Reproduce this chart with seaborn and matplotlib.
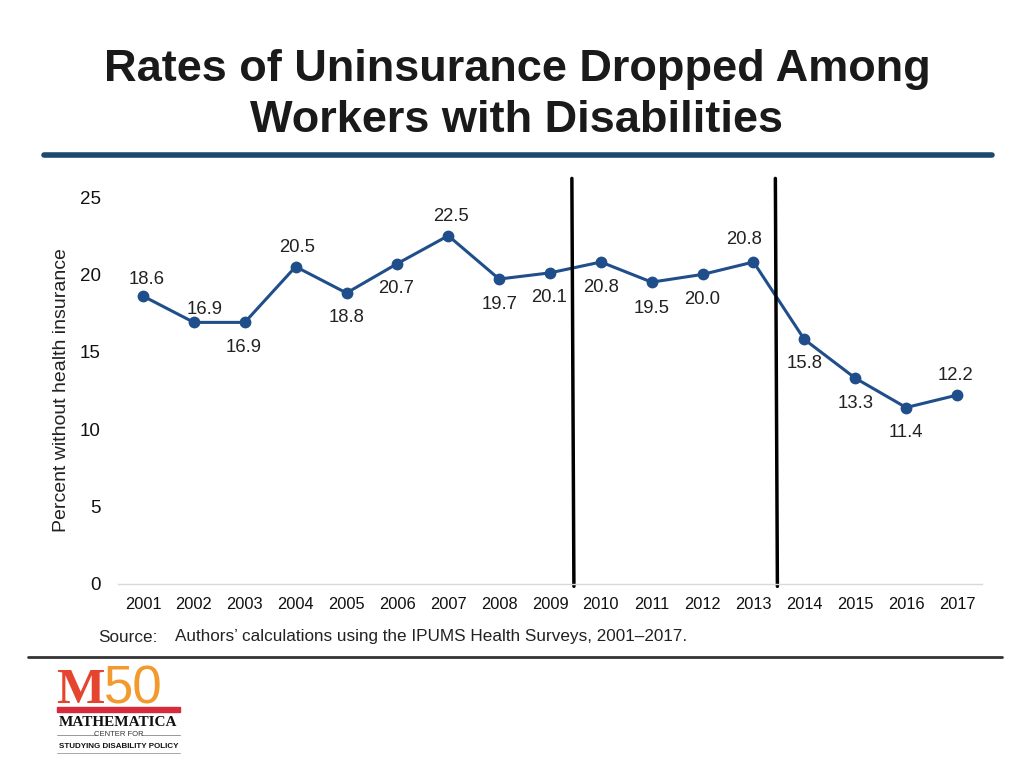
import matplotlib
matplotlib.use('Agg')
import matplotlib.pyplot as plt
import seaborn as sns
import pandas as pd
import numpy as np
from matplotlib.patches import Rectangle
from matplotlib.lines import Line2D

# data
years = [str(y) for y in range(2001, 2018)]
rates = [18.6, 16.9, 16.9, 20.5, 18.8, 20.7, 22.5, 19.7, 20.1,
         20.8, 19.5, 20.0, 20.8, 15.8, 13.3, 11.4, 12.2]
rate_labels = ['18.6', '16.9', '16.9', '20.5', '18.8', '20.7', '22.5', '19.7', '20.1',
               '20.8', '19.5', '20.0', '20.8', '15.8', '13.3', '11.4', '12.2']
y_ticks = [0, 5, 10, 15, 20, 25]
# policy break markers, between 2009/2010 and 2013/2014
breaks = [8.45, 12.45]

# label offsets in pixels (dx, dy)
label_offsets = [(4, 17), (11, 13), (-1, -25), (1, 19), (0, -25), (-1, -25), (3, 19),
                 (0, -25), (-1, -25), (0, -25), (0, -26), (0, -25), (-9, 23),
                 (0, -24), (0, -25), (0, -25), (-2, 20)]

sns.set_theme(style='white')
plt.rcParams['font.family'] = ['Liberation Sans', 'DejaVu Sans']

line_color = '#1f4e8a'

df = pd.DataFrame({'pos': np.arange(len(years)), 'year': years, 'rate': rates})

fig = plt.figure(figsize=(10.24, 7.68), dpi=100)
W, H = 1024, 768

def fx(px):
    return px / W

def fy(py):
    return 1 - py / H

# title
fig.text(fx(517), fy(69), 'Rates of Uninsurance Dropped Among', ha='center', va='center',
         fontsize=32.5, fontweight='bold', color='#1a1a1a')
fig.text(fx(517), fy(121), 'Workers with Disabilities', ha='center', va='center',
         fontsize=32.5, fontweight='bold', color='#1a1a1a')
fig.add_artist(Line2D([fx(44), fx(992)], [fy(155), fy(155)], color='#1b4a6e', lw=4,
                      transform=fig.transFigure))

# main chart
ax = fig.add_axes([fx(117.6), fy(584), fx(982.4) - fx(117.6), fy(197) - fy(584)])
sns.lineplot(data=df, x='pos', y='rate', ax=ax, color=line_color, lw=2.2,
             marker='o', markersize=8.5, markeredgewidth=0, markerfacecolor=line_color)

for i, (v, lab) in enumerate(zip(rates, rate_labels)):
    dx, dy = label_offsets[i]
    ax.annotate(lab, (i, v), xytext=(dx, dy), textcoords='offset pixels',
                ha='center', va='center', fontsize=13.3, color='#222222')

for b in breaks:
    ax.plot([b - 0.02, b + 0.02], [26.2, -0.15], color='black', lw=2.5, clip_on=False)

ax.set_xlim(-0.5, len(years) - 0.5)
ax.set_ylim(0, 25)
ax.set_xticks(df['pos'])
ax.set_xticklabels(years)
ax.set_yticks(y_ticks)
ax.tick_params(axis='both', length=0, colors='#111111')
ax.tick_params(axis='x', pad=9.5, labelsize=11.8)
ax.tick_params(axis='y', pad=12, labelsize=13.5)
ax.set_xlabel('')
ax.set_ylabel('Percent without health insurance', fontsize=14, color='#222222', va='center')
ax.yaxis.set_label_coords((62 - 117.6) / 864.8, 0.501)
ax.grid(False)
for s in ['top', 'right', 'left']:
    ax.spines[s].set_visible(False)
ax.spines['bottom'].set_color('#d9d9d9')
ax.spines['bottom'].set_linewidth(1)

# source
fig.text(fx(98), fy(637), 'Source:', ha='left', va='center', fontsize=12.3, color='#222222')
fig.text(fx(175), fy(637), 'Authors\u2019 calculations using the IPUMS Health Surveys, 2001\u20132017.',
         ha='left', va='center', fontsize=12.3, color='#222222')
fig.add_artist(Line2D([fx(28), fx(1002)], [fy(657), fy(657)], color='#333333', lw=2,
                      transform=fig.transFigure))

# logo
fig.text(fx(56), fy(703), 'M', ha='left', va='baseline', fontsize=37, fontweight='bold',
         family='Liberation Serif', color='#e5452f')
fig.text(fx(104), fy(703), '50', ha='left', va='baseline', fontsize=38,
         family='Liberation Sans', color='#f29a2e')
fig.add_artist(Rectangle((fx(57), fy(712)), fx(180) - fx(57), fy(707) - fy(712),
                         color='#d62b3c', transform=fig.transFigure))
fig.text(fx(118.5), fy(722), 'MATHEMATICA', ha='center', va='center', fontsize=11,
         fontweight='bold', family='Liberation Serif', color='#111111')
fig.text(fx(118.5), fy(735), 'CENTER FOR', ha='center', va='center', fontsize=5.5,
         color='#333333')
fig.add_artist(Line2D([fx(57), fx(96)], [fy(735), fy(735)], color='#888888', lw=0.6,
                      transform=fig.transFigure))
fig.add_artist(Line2D([fx(141), fx(180)], [fy(735), fy(735)], color='#888888', lw=0.6,
                      transform=fig.transFigure))
fig.text(fx(118.5), fy(746), 'STUDYING DISABILITY POLICY', ha='center', va='center',
         fontsize=5.8, fontweight='bold', color='#111111')
fig.add_artist(Line2D([fx(57), fx(180)], [fy(753), fy(753)], color='#999999', lw=0.6,
                      transform=fig.transFigure))

fig.savefig('out.png', dpi=100)
